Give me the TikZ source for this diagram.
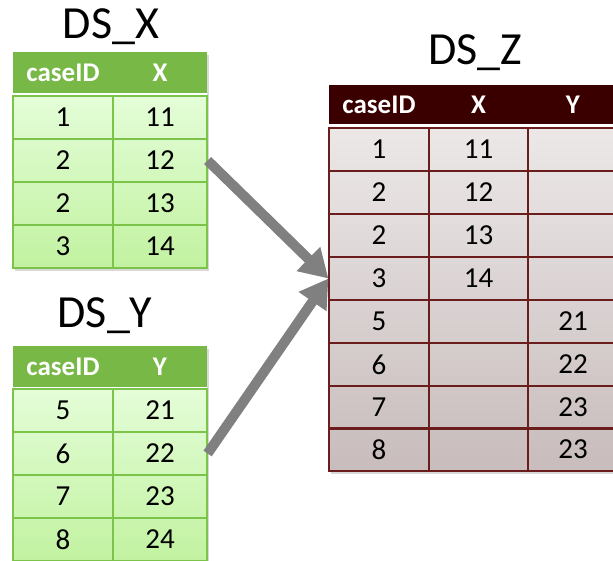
\documentclass[tikz,border=0pt]{standalone}
\usepackage{fontspec}
\setmainfont{Carlito}
\usetikzlibrary{arrows.meta}
\usetikzlibrary{shadows}

\definecolor{grhead}{HTML}{78B846}
\definecolor{grline}{HTML}{7CC34A}
\definecolor{grtop}{HTML}{E4FDD8}
\definecolor{grbot}{HTML}{C1F2A0}
\definecolor{mrhead}{HTML}{3A0000}
\definecolor{mrline}{HTML}{6B1C1C}
\definecolor{mrtop}{HTML}{ECE8E8}
\definecolor{mrbot}{HTML}{C8BCBC}
\definecolor{flowgray}{HTML}{808080}

\tikzset{
  dstitle/.style={anchor=base, inner sep=0pt, font=\fontsize{46}{50}\selectfont},
  colhead/.style={inner sep=0pt, text=white, font=\bfseries\fontsize{27}{30}\selectfont},
  cell/.style={minimum height=43pt, inner sep=0pt, line width=1.2pt,
    font=\fontsize{29}{32}\selectfont},
  gcell/.style={cell, draw=grline},
  mcell/.style={cell, draw=mrline},
  tshadow/.style={drop shadow={opacity=0.3, shadow xshift=2pt, shadow yshift=-3pt}},
  flow/.style={draw=flowgray, line width=10pt, -{Triangle[width=32pt,length=28pt]}}
}

\begin{document}
\begin{tikzpicture}[x=1pt,y=-1pt]
    \useasboundingbox (0,0) rectangle (613,560);

    % DS_X
    \node[dstitle] (tx) at (111,38) {DS\_X};
    \fill[white, tshadow] (13,52) rectangle (207,268);
    \fill[grhead] (13,52) rectangle (207,93);
    \shade[top color=grtop, bottom color=grbot] (13,96) rectangle (207,268);
    \node[colhead] (xhc) at (63,72.5) {caseID};
    \node[colhead] (xhv) at (160,72.5) {X};
    \node[gcell, minimum width=100pt] (x1c) at (63,117.5) {1};
    \node[gcell, minimum width=94pt] (x1v) at (160,117.5) {11};
    \node[gcell, minimum width=100pt] (x2c) at (63,160.5) {2};
    \node[gcell, minimum width=94pt] (x2v) at (160,160.5) {12};
    \node[gcell, minimum width=100pt] (x3c) at (63,203.5) {2};
    \node[gcell, minimum width=94pt] (x3v) at (160,203.5) {13};
    \node[gcell, minimum width=100pt] (x4c) at (63,246.5) {3};
    \node[gcell, minimum width=94pt] (x4v) at (160,246.5) {14};

    % DS_Y
    \node[dstitle] (ty) at (105,327) {DS\_Y};
    \fill[white, tshadow] (13,346) rectangle (207,561);
    \fill[grhead] (13,346) rectangle (207,387);
    \shade[top color=grtop, bottom color=grbot] (13,389) rectangle (207,561);
    \node[colhead] (yhc) at (63,366.5) {caseID};
    \node[colhead] (yhv) at (160,366.5) {Y};
    \node[gcell, minimum width=100pt] (y1c) at (63,410.5) {5};
    \node[gcell, minimum width=94pt] (y1v) at (160,410.5) {21};
    \node[gcell, minimum width=100pt] (y2c) at (63,453.5) {6};
    \node[gcell, minimum width=94pt] (y2v) at (160,453.5) {22};
    \node[gcell, minimum width=100pt] (y3c) at (63,496.5) {7};
    \node[gcell, minimum width=94pt] (y3v) at (160,496.5) {23};
    \node[gcell, minimum width=100pt] (y4c) at (63,539.5) {8};
    \node[gcell, minimum width=94pt] (y4v) at (160,539.5) {24};

    % DS_Z
    \node[dstitle] (tz) at (475,64) {DS\_Z};
    \fill[white, tshadow] (329,85) rectangle (618,471);
    \fill[mrhead] (329,85) rectangle (618,124);
    \shade[top color=mrtop, bottom color=mrbot] (329,127) rectangle (618,471);
    \node[colhead] (zhc) at (379,104.5) {caseID};
    \node[colhead] (zhx) at (478.5,104.5) {X};
    \node[colhead] (zhy) at (573,104.5) {Y};
    \node[mcell, minimum width=100pt] (z1c) at (379,149.5) {1};
    \node[mcell, minimum width=99pt] (z1x) at (478.5,149.5) {11};
    \node[mcell, minimum width=90pt] (z1y) at (573,149.5) {};
    \node[mcell, minimum width=100pt] (z2c) at (379,192.5) {2};
    \node[mcell, minimum width=99pt] (z2x) at (478.5,192.5) {12};
    \node[mcell, minimum width=90pt] (z2y) at (573,192.5) {};
    \node[mcell, minimum width=100pt] (z3c) at (379,235.5) {2};
    \node[mcell, minimum width=99pt] (z3x) at (478.5,235.5) {13};
    \node[mcell, minimum width=90pt] (z3y) at (573,235.5) {};
    \node[mcell, minimum width=100pt] (z4c) at (379,278.5) {3};
    \node[mcell, minimum width=99pt] (z4x) at (478.5,278.5) {14};
    \node[mcell, minimum width=90pt] (z4y) at (573,278.5) {};
    \node[mcell, minimum width=100pt] (z5c) at (379,321.5) {5};
    \node[mcell, minimum width=99pt] (z5x) at (478.5,321.5) {};
    \node[mcell, minimum width=90pt] (z5y) at (573,321.5) {21};
    \node[mcell, minimum width=100pt] (z6c) at (379,364.5) {6};
    \node[mcell, minimum width=99pt] (z6x) at (478.5,364.5) {};
    \node[mcell, minimum width=90pt] (z6y) at (573,364.5) {22};
    \node[mcell, minimum width=100pt] (z7c) at (379,407.5) {7};
    \node[mcell, minimum width=99pt] (z7x) at (478.5,407.5) {};
    \node[mcell, minimum width=90pt] (z7y) at (573,407.5) {23};
    \node[mcell, minimum width=100pt] (z8c) at (379,449.5) {8};
    \node[mcell, minimum width=99pt] (z8x) at (478.5,449.5) {};
    \node[mcell, minimum width=90pt] (z8y) at (573,449.5) {23};

    \draw[flow] (x2v.east) -- (z4c.west);
    \draw[flow] (y2v.east) -- (z4c.west);
\end{tikzpicture}
\end{document}
